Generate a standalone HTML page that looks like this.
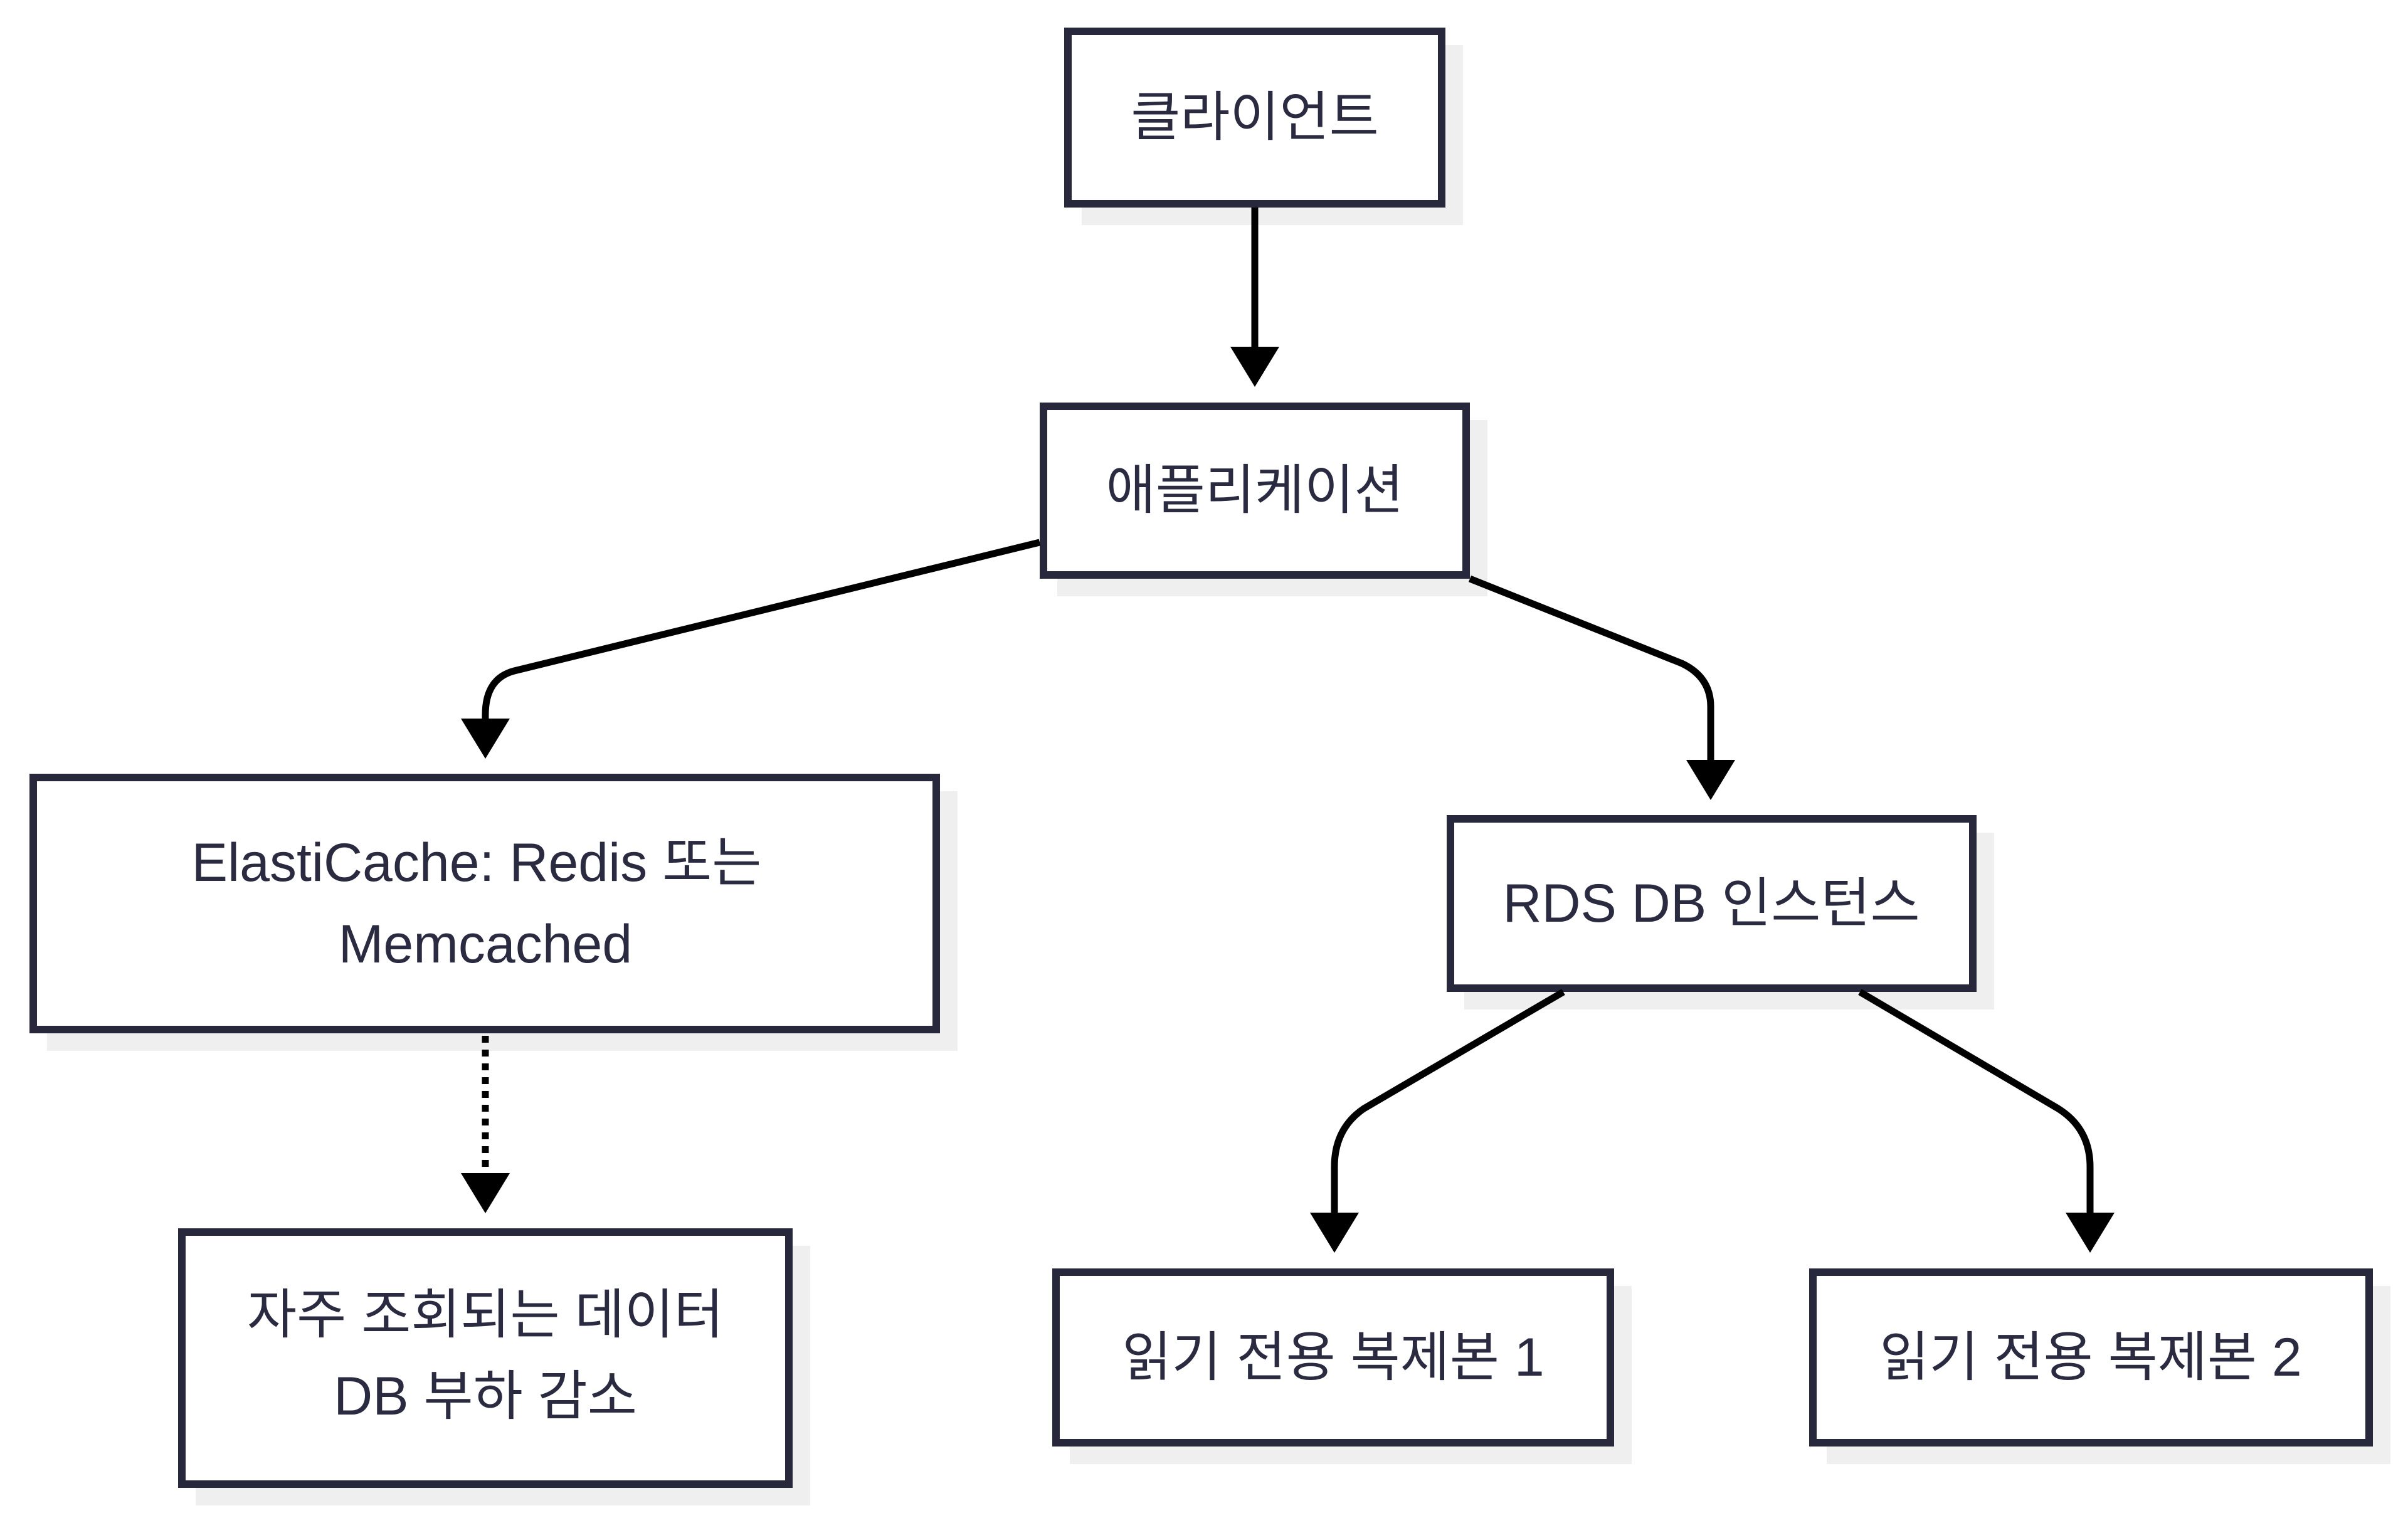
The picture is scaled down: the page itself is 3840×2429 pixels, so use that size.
<!DOCTYPE html>
<html><head><meta charset="utf-8"><style>
html,body{margin:0;padding:0;background:#fff;}
svg{display:block;}
text{font-family:"Liberation Sans","Noto Sans CJK KR",sans-serif;font-size:86px;fill:#2a2a40;text-anchor:middle;}
</style></head><body>
<svg width="3840" height="2429" viewBox="0 0 3840 2429" xmlns="http://www.w3.org/2000/svg">
<defs>
<marker id="ah" markerWidth="10" markerHeight="10" refX="5" refY="0" orient="auto" markerUnits="userSpaceOnUse"></marker>
</defs>
<g fill="#efefef">
<rect x="1725" y="72" width="608" height="287"/>
<rect x="1686" y="670" width="686" height="281"/>
<rect x="75" y="1262" width="1452" height="414"/>
<rect x="312" y="1987" width="980" height="414"/>
<rect x="2335" y="1328" width="845" height="282"/>
<rect x="1706" y="2051" width="896" height="284"/>
<rect x="2913" y="2051" width="899" height="284"/>
</g>
<g fill="#fff" stroke="#28283d" stroke-width="12">
<rect x="1703" y="50" width="596" height="275"/>
<rect x="1664" y="648" width="674" height="269"/>
<rect x="53" y="1240" width="1440" height="402"/>
<rect x="290" y="1965" width="968" height="402"/>
<rect x="2313" y="1306" width="833" height="270"/>
<rect x="1684" y="2029" width="884" height="272"/>
<rect x="2891" y="2029" width="887" height="272"/>
</g>
<g fill="none" stroke="#000" stroke-width="11">
<path d="M2001 331 L2001 560"/>
<path d="M1658 865 L820 1070 Q774 1082 774 1140 L774 1150"/>
<path d="M2344 923 L2682 1058 Q2728 1080 2728 1127 L2728 1215"/>
<path d="M774 1652 L774 1875" stroke-dasharray="11 11"/>
<path d="M2493 1582 L2175 1768 Q2128 1800 2128 1861 L2128 1938"/>
<path d="M2966 1582 L3282 1768 Q3333 1800 3333 1861 L3333 1938"/>
</g>
<g fill="#000">
<polygon points="1962,553 2040,553 2001,617"/>
<polygon points="735,1146 813,1146 774,1210"/>
<polygon points="2689,1212 2767,1212 2728,1276"/>
<polygon points="735,1871 813,1871 774,1935"/>
<polygon points="2089,1934 2167,1934 2128,1998"/>
<polygon points="3294,1934 3372,1934 3333,1998"/>
</g>
<text x="2001" y="216">클라이언트</text>
<text x="2001" y="811">애플리케이션</text>
<text x="760" y="1405">ElastiCache: Redis 또는</text>
<text x="774" y="1535">Memcached</text>
<text x="774" y="2126">자주 조회되는 데이터</text>
<text x="774" y="2256">DB 부하 감소</text>
<text x="2729" y="1470">RDS DB 인스턴스</text>
<text x="2126" y="2194">읽기 전용 복제본 1</text>
<text x="3334" y="2194">읽기 전용 복제본 2</text>
</svg>
</body></html>
